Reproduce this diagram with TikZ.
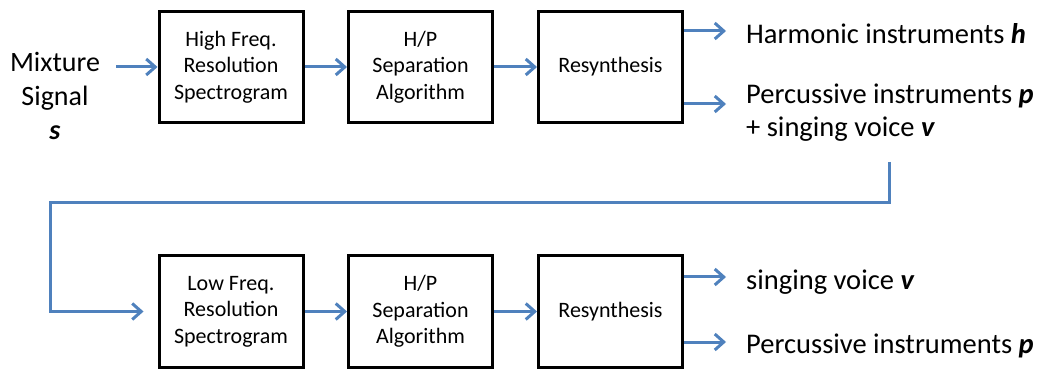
\documentclass[tikz,border=0pt]{standalone}
\usepackage{fontspec}
\setmainfont{Carlito}
\usetikzlibrary{arrows.meta}
\definecolor{flowblue}{HTML}{4F81BD}
\begin{document}
\begin{tikzpicture}[x=1pt,y=1pt,
  stage/.style={draw=black, line width=3pt, minimum width=144pt, minimum height=111pt,
    align=center, inner sep=2pt, font=\fontsize{22}{26.5}\selectfont},
  label/.style={inner sep=0pt, font=\fontsize{28.5}{33}\selectfont},
  flow/.style={draw=flowblue, line width=3pt,
    -{Straight Barb[length=9pt,width=16pt,line width=3pt]}}]
\useasboundingbox (0,0) rectangle (1043,372);

% upper chain: high frequency resolution pass
\node[stage] (hf)  at (231,305)   {High Freq.\\Resolution\\Spectrogram};
\node[stage] (hp1) at (420.5,305) {H/P\\Separation\\Algorithm};
\node[stage] (rs1) at (610.5,305) {Resynthesis};

% lower chain: low frequency resolution pass
\node[stage] (lf)  at (231,60.5)   {Low Freq.\\Resolution\\Spectrogram};
\node[stage] (hp2) at (420.5,60.5) {H/P\\Separation\\Algorithm};
\node[stage] (rs2) at (610.5,60.5) {Resynthesis};

% input signal
\node[label, align=center, font=\fontsize{28}{34}\selectfont] (mix) at (55,276)
  {Mixture\\Signal\\\textbf{\textit{s}}};

% outputs
\node[label, anchor=west] (harm) at (746,338) {Harmonic instruments \textbf{\textit{h}}};
\node[label, anchor=west, align=left] (pv) at (746,259)
  {Percussive instruments \textbf{\textit{p}}\\+ singing voice \textbf{\textit{v}}};
\node[label, anchor=west] (voice) at (746,90) {singing voice \textbf{\textit{v}}};
\node[label, anchor=west] (perc) at (746,26) {Percussive instruments \textbf{\textit{p}}};

% output arrow ends
\coordinate (o1) at (726,341);
\coordinate (o2) at (726,268);
\coordinate (o3) at (726,95);
\coordinate (o4) at (726,30);

% feedback route
\coordinate (fbtop) at (889,210);
\coordinate (fbmid) at (50,169);

\draw[flow, shorten <=16pt] (mix.east |- hf.west) -- (hf.west);
\draw[flow] (hf) -- (hp1);
\draw[flow] (hp1) -- (rs1);
\draw[flow] (lf) -- (hp2);
\draw[flow] (hp2) -- (rs2);

\draw[flow] (rs1.east |- o1) -- (o1);
\draw[flow] (rs1.east |- o2) -- (o2);
\draw[flow] (rs2.east |- o3) -- (o3);
\draw[flow] (rs2.east |- o4) -- (o4);

\draw[flow, shorten >=14pt] (fbtop) |- (fbmid) |- (lf.west);
\end{tikzpicture}
\end{document}
